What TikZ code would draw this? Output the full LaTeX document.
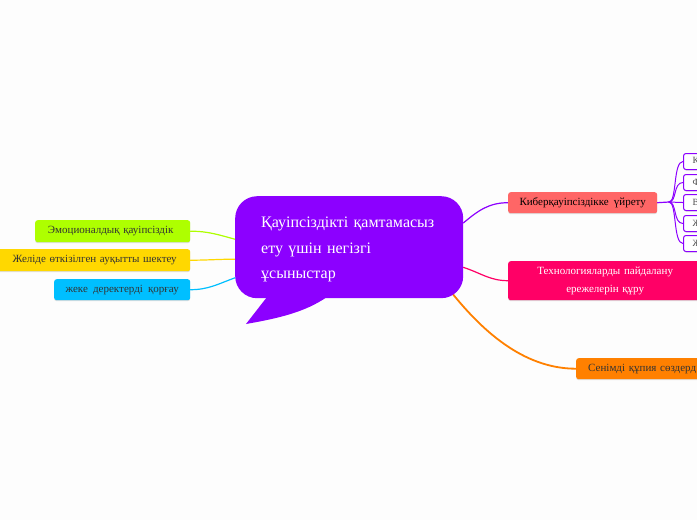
\documentclass[tikz,border=0pt]{standalone}
\usepackage{fontspec}
\setmainfont[WordSpace=1.9]{Liberation Serif}
\usetikzlibrary{shadows,backgrounds}
\definecolor{bgc}{HTML}{FDFDFD}
\definecolor{purp}{HTML}{8C00FF}
\definecolor{coral}{HTML}{FF6666}
\definecolor{pinkc}{HTML}{FF0066}
\definecolor{orangec}{HTML}{FF8000}
\definecolor{limec}{HTML}{AEFF00}
\definecolor{yelc}{HTML}{FFD800}
\definecolor{bluec}{HTML}{00BFFF}
\tikzset{
  box/.style={rounded corners=2.5pt,anchor=north west,inner sep=0pt,align=center,font=\fontsize{11}{18}\selectfont,text=black!80,
    general shadow={shadow xshift=0pt,shadow yshift=-1pt,fill=black,opacity=.12}},
  leaf/.style={box,draw=purp,line width=1pt,fill=white,minimum width=40pt,minimum height=16pt,text width=38pt,align=left,font=\fontsize{9.5}{10}\selectfont,text=black!70},
  conn/.style={line width=1.2pt,line cap=round}
}
\begin{document}
\begin{tikzpicture}[x=1pt,y=-1pt]
\useasboundingbox (0,0) rectangle (697,520);
\clip (0,0) rectangle (697,520);
% central
\node[anchor=north west,fill=purp,rounded corners=22pt,minimum width=228pt,minimum height=102pt,inner xsep=26pt,inner ysep=0pt,text width=176pt,align=left,text=white,font=\fontsize{16}{25.5}\selectfont] (central) at (235,196) {\rule{0pt}{15pt}Қауіпсіздікті қамтамасыз\\ету үшін негізгі\\ұсыныстар};
\fill[purp] (267,297) -- (246,324) .. controls (280,318) and (305,312) .. (327,297) -- cycle;
\coordinate (orangestart) at (448,288);
% right
\node[box,fill=coral,text=black,minimum width=149pt,minimum height=21pt] (cyber) at (508,192) {Киберқауіпсіздікке үйрету};
\node[box,fill=pinkc,text=white,minimum width=194pt,minimum height=39pt,text width=194pt] (tech) at (508,261) {Технологияларды пайдалану\\ережелерін құру};
\node[box,fill=orangec,minimum width=150pt,minimum height=21pt,text width=150pt,align=left] (pass) at (576,358) {\hspace*{12pt}Сенімді құпия сөздерд};
% leaves
\node[leaf] (l1) at (683,153) {\hspace*{8pt}Қ};
\node[leaf] (l2) at (683,174) {\hspace*{8pt}Ф};
\node[leaf] (l3) at (683,194) {\hspace*{8pt}В};
\node[leaf] (l4) at (683,215) {\hspace*{8pt}Ж};
\node[leaf] (l5) at (683,235) {\hspace*{8pt}Ж};
\coordinate (hub) at (669,202);
% left
\node[box,fill=limec,minimum width=155pt,minimum height=22pt,text width=155pt] (emo) at (35,220) {\hspace*{-4pt}Эмоционалдық қауіпсіздік};
\node[box,fill=yelc,minimum width=195pt,minimum height=22pt,text width=195pt] (net) at (-5,249) {\hspace*{4pt}Желіде өткізілген ауқытты шектеу};
\node[box,fill=bluec,minimum width=136pt,minimum height=21pt] (data) at (54,279) {жеке деректерді қорғау};
\begin{scope}[on background layer]
\fill[bgc] (0,0) rectangle (697,520);
\draw[conn,purp] (central.12) to[out=40,in=180] (cyber.west);
\draw[conn,pinkc] (central.-10) to[out=-18,in=180] (tech.west);
\draw[conn,orangec,line width=1.8pt] (orangestart) to[out=-52,in=180,looseness=.9] (pass.west);
\draw[conn,limec] (central.176) to[out=165,in=0] (emo.east);
\draw[conn,yelc] (central.186) to[out=180,in=0] (net.east);
\draw[conn,bluec] (central.195) to[out=200,in=0] (data.east);
\draw[conn,purp] (cyber.east) -- (hub);
\foreach \n in {l1,l2,l3,l4,l5}{\draw[conn,purp,line width=1pt] (hub) .. controls (677,202) and (673,0 |- \n.west) .. (\n.west);}
\end{scope}
\end{tikzpicture}
\end{document}
